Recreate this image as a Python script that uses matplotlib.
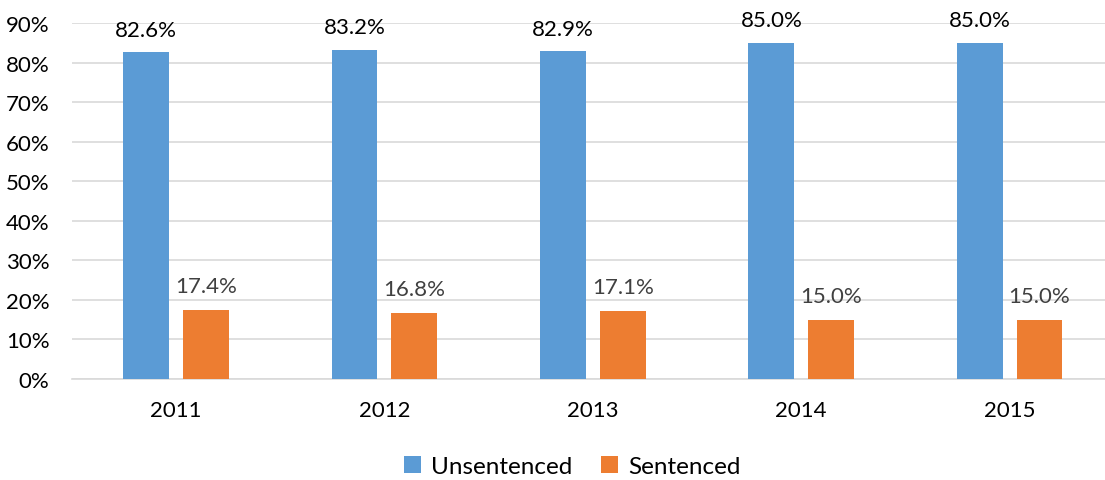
import matplotlib
matplotlib.use("Agg")
import matplotlib.pyplot as plt
import numpy as np

years = ["2011", "2012", "2013", "2014", "2015"]
unsentenced = [82.6, 83.2, 82.9, 85.0, 85.0]
sentenced = [17.4, 16.8, 17.1, 15.0, 15.0]
yticks = [0, 10, 20, 30, 40, 50, 60, 70, 80, 90]

plt.rcParams['font.family'] = ['Lato', 'DejaVu Sans']

fig = plt.figure(figsize=(11.05, 4.81), dpi=100)
ax = fig.add_axes([0.065, 0.21, 0.943, 0.740])

x = np.arange(len(years))
w = 0.22
gap = 0.067
off = (w + gap) / 2
blue = "#5B9BD5"
orange = "#ED7D31"
b1 = ax.bar(x - off, unsentenced, w, color=blue, label="Unsentenced", zorder=3)
b2 = ax.bar(x + off, sentenced, w, color=orange, label="Sentenced", zorder=3)

for xi, v in zip(x, unsentenced):
    ax.annotate(f"{v:.1f}%", (xi - off, v), xytext=(0, 9), textcoords="offset points",
                ha="center", va="bottom", fontsize=16, color="#000000")
for xi, v in zip(x, sentenced):
    ax.annotate(f"{v:.1f}%", (xi + off, v), xytext=(0, 10), textcoords="offset points",
                ha="center", va="bottom", fontsize=16, color="#404040")

ax.set_xlim(-0.5, len(years) - 0.5)
ax.set_ylim(0, 90)
ax.set_yticks(yticks)
ax.set_yticklabels([f"{t}%" for t in yticks], fontsize=16)
ax.set_xticks(x)
ax.set_xticklabels(years, fontsize=16)
ax.grid(axis="y", color="#D9D9D9", linewidth=1.2, zorder=0)
for s in ["top", "right", "left"]:
    ax.spines[s].set_visible(False)
ax.spines["bottom"].set_color("#D9D9D9")
ax.spines["bottom"].set_linewidth(1.2)
ax.tick_params(axis="y", length=0, pad=16)
ax.tick_params(axis="x", length=0, pad=15)

fig.legend(handles=[b1, b2], loc="center", bbox_to_anchor=(0.518, 0.028), ncol=2,
           frameon=False, fontsize=17.5, handlelength=0.7, handleheight=0.7,
           columnspacing=1.2, handletextpad=0.4)

fig.savefig("out.png", dpi=100)
